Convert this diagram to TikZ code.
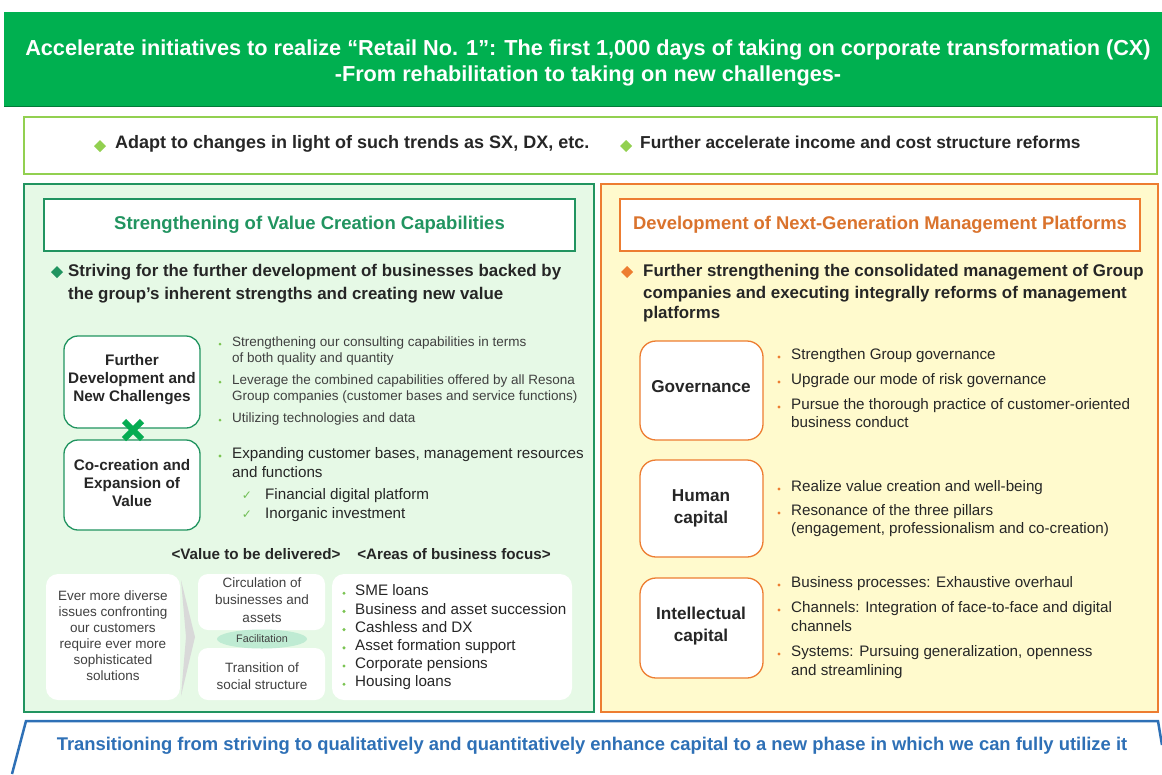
\documentclass[tikz,border=0pt]{standalone}
\usepackage{fontspec}
\setmainfont{Liberation Sans}
\newfontfamily\symfont{DejaVu Sans}
\usetikzlibrary{shapes.geometric}
\definecolor{titlegreen}{RGB}{0,176,80}
\definecolor{deepgreen}{RGB}{33,148,96}
\definecolor{limegreen}{RGB}{146,208,80}
\definecolor{mintfill}{RGB}{230,249,230}
\definecolor{tangerine}{RGB}{237,125,49}
\definecolor{paleyellow}{RGB}{255,250,205}
\definecolor{steelblue}{RGB}{46,112,182}
\definecolor{inkgray}{RGB}{38,38,38}
\definecolor{softgray}{RGB}{64,64,64}
\newcommand{\fsz}[1]{\fontsize{#1}{#1}\selectfont}
\begin{document}
\begin{tikzpicture}[x=1pt,y=-1pt,
    txt/.style={inner sep=0pt, text height=.72em, text depth=.2em, text=inkgray},
    hdr/.style={txt, font=\bfseries\fsz{16.9}},
    small/.style={txt, font=\fsz{13.5}, text=softgray},
    mid/.style={txt, font=\fsz{15.2}},
    boxlabel/.style={txt, font=\bfseries\fsz{15.3}},
    gbox/.style={draw=deepgreen, line width=1.3pt, fill=white, rounded corners=14pt},
    obox/.style={draw=tangerine, line width=1.3pt, fill=white, rounded corners=16pt},
    wbox/.style={fill=white, rounded corners=12pt},
    dotg/.style={fill=limegreen!80!deepgreen},
    doto/.style={fill=tangerine}]
    \useasboundingbox (0,0) rectangle (1162,774);

    % heading band
    \fill[titlegreen] (4,12) rectangle (1162,106);
    \draw[titlegreen!70!black, line width=1pt] (4,106) -- (1162,106);
    \node[font=\bfseries\fsz{21.7}, text=white, align=center, inner sep=0pt] (title) at (588,63)
        {Accelerate initiatives to realize “Retail No. 1”: The first 1,000 days of taking on corporate transformation (CX)\\[4pt]
         -From rehabilitation to taking on new challenges-};

    % trends
    \draw[limegreen, line width=2pt, fill=white] (24,117) rectangle (1157,174);
    \fill[limegreen] (100,140) -- (106,146) -- (100,152) -- (94,146) -- cycle;
    \fill[limegreen] (626,140) -- (632,146) -- (626,152) -- (620,146) -- cycle;
    \node[hdr, font=\bfseries\fsz{18}, anchor=west] (trendA) at (115,146) {Adapt to changes in light of such trends as SX, DX, etc.};
    \node[hdr, font=\bfseries\fsz{17.3}, anchor=west] (trendB) at (640,146) {Further accelerate income and cost structure reforms};

    % panels
    \draw[deepgreen, line width=2.2pt, fill=mintfill] (24,184) rectangle (594,712);
    \draw[tangerine, line width=2.2pt, fill=paleyellow] (601,184) rectangle (1158,712);

    % left panel
    \node[draw=deepgreen, line width=1.5pt, fill=white, minimum width=531pt, minimum height=52pt,
        font=\bfseries\fsz{18.5}, text=deepgreen] (valuehead) at (309.5,225) {Strengthening of Value Creation Capabilities};
    \fill[deepgreen] (57,266) -- (63,272) -- (57,278) -- (51,272) -- cycle;
    \node[hdr, anchor=west] (strive1) at (68,274) {Striving for the further development of businesses backed by};
    \node[hdr, anchor=west] (strive2) at (68,297) {the group’s inherent strengths and creating new value};

    \draw[gbox] (64,336) rectangle (200,428);
    \draw[gbox] (64,440) rectangle (200,530);
    \foreach \t [count=\i] in {Further, Development and, New Challenges}
        \node[boxlabel] (fd\i) at (132,345+18*\i) {\t};
    \foreach \t [count=\i] in {Co-creation and, Expansion of, Value}
        \node[boxlabel] (cc\i) at (132,450+18*\i) {\t};
    \draw[line width=6pt, titlegreen!85!deepgreen] (124,421) -- (142,439) (142,421) -- (124,439);

    \foreach \y in {344,382,420}
        \fill[dotg] (220,\y) circle (1.5);
    \node[small, anchor=west] (sc1) at (232,344) {Strengthening our consulting capabilities in terms};
    \node[small, anchor=west] (sc2) at (232,360) {of both quality and quantity};
    \node[small, anchor=west] (lv1) at (232,382) {Leverage the combined capabilities offered by all Resona};
    \node[small, anchor=west] (lv2) at (232,398) {Group companies (customer bases and service functions)};
    \node[small, anchor=west] (ut1) at (232,420) {Utilizing technologies and data};
    \fill[dotg] (220,456) circle (1.7);
    \node[mid, anchor=west] (ex1) at (232,456) {Expanding customer bases, management resources};
    \node[mid, anchor=west] (ex2) at (232,475) {and functions};
    \foreach \y/\t [count=\i] in {497/Financial digital platform, 516/Inorganic investment} {
        \node[txt, font=\symfont\fsz{12}, text=limegreen!70!deepgreen] (ck\i) at (247,\y) {✓};
        \node[mid, anchor=west] (ckt\i) at (265,\y) {\t};
    }

    \node[txt, font=\bfseries\fsz{15.2}] (valhead) at (256,557) {<Value to be delivered>};
    \node[txt, font=\bfseries\fsz{15.2}] (areahead) at (454,557) {<Areas of business focus>};

    \fill[wbox] (46,574) rectangle (180,700);
    \foreach \t [count=\i] in {Ever more diverse, issues confronting, our customers, require ever more, sophisticated, solutions}
        \node[small] (iss\i) at (113,582+16*\i) {\t};
    \fill[black!15] (181,580) -- (195,637) -- (181,696) -- (186,637) -- cycle;
    \fill[wbox, rounded corners=10pt] (198,574) rectangle (325,630);
    \fill[wbox, rounded corners=10pt] (198,648) rectangle (325,700);
    \foreach \t [count=\i] in {Circulation of, businesses and, assets}
        \node[small] (circ\i) at (262,567+17.5*\i) {\t};
    \node[fill=titlegreen!25!white, ellipse, minimum width=90pt, minimum height=19pt, inner sep=0pt,
        font=\fsz{10.8}, text=softgray] (facil) at (262,639) {Facilitation};
    \node[small] (tr1) at (262,670) {Transition of};
    \node[small] (tr2) at (262,687) {social structure};
    \fill[wbox] (332,574) rectangle (572,700);
    \foreach \t [count=\i] in {SME loans, Business and asset succession, Cashless and DX, Asset formation support, Corporate pensions, Housing loans} {
        \fill[dotg] (344,575+18.2*\i) circle (1.7);
        \node[mid, anchor=west] (area\i) at (355,575+18.2*\i) {\t};
    }

    % right panel
    \node[draw=tangerine, line width=1.5pt, fill=white, minimum width=520pt, minimum height=52pt,
        font=\bfseries\fsz{18.4}, text=tangerine!92!black] (platformhead) at (880,225) {Development of Next-Generation Management Platforms};
    \fill[tangerine] (627,266) -- (633,272) -- (627,278) -- (621,272) -- cycle;
    \node[hdr, anchor=west] (cons1) at (643,274) {Further strengthening the consolidated management of Group};
    \node[hdr, anchor=west] (cons2) at (643,296) {companies and executing integrally reforms of management};
    \node[hdr, anchor=west] (cons3) at (643,316) {platforms};

    \draw[obox] (640,341) rectangle (763,440);
    \draw[obox] (640,460) rectangle (763,557);
    \draw[obox] (640,578) rectangle (763,678);
    \node[boxlabel, font=\bfseries\fsz{17.2}] (gov) at (701,390) {Governance};
    \node[boxlabel, font=\bfseries\fsz{17.2}] (hum1) at (701,499) {Human};
    \node[boxlabel, font=\bfseries\fsz{17.2}] (hum2) at (701,521) {capital};
    \node[boxlabel, font=\bfseries\fsz{17.2}] (int1) at (701,617) {Intellectual};
    \node[boxlabel, font=\bfseries\fsz{17.2}] (int2) at (701,639) {capital};

    \foreach \y in {357,382,407,489,513,585,610,654}
        \fill[doto] (779,\y) circle (1.7);
    \foreach \y/\t [count=\i] in {357/Strengthen Group governance, 382/Upgrade our mode of risk governance,
        407/Pursue the thorough practice of customer-oriented, 425/business conduct,
        489/Realize value creation and well-being, 513/Resonance of the three pillars,
        531/{(engagement, professionalism and co-creation)},
        585/Business processes: Exhaustive overhaul, 610/Channels: Integration of face-to-face and digital,
        629/channels, 654/{Systems: Pursuing generalization, openness}, 673/and streamlining}
        \node[mid, anchor=west] (pl\i) at (791,\y) {\t};

    % closing band
    \fill[white] (12,774) -- (26,721) -- (1158,721) -- (1162,745) -- (1162,774) -- cycle;
    \draw[steelblue, line width=2.5pt] (12,774) -- (26,721) -- (1158,721) -- (1162,745);
    \node[txt, font=\bfseries\fsz{18.4}, text=steelblue] (closing) at (592,748)
        {Transitioning from striving to qualitatively and quantitatively enhance capital to a new phase in which we can fully utilize it};
\end{tikzpicture}
\end{document}
